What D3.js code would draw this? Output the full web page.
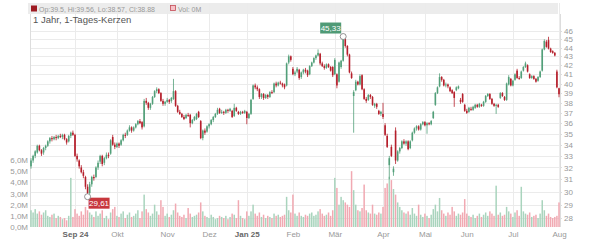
<!DOCTYPE html>
<html lang="de">
<head>
  <meta charset="utf-8">
  <title>1 Jahr, 1-Tages-Kerzen</title>
  <script src="https://cdn.jsdelivr.net/npm/d3@7"></script>
  <style>
    body { margin: 0; background: #fff; }
    svg { display: block; font-family: "Liberation Sans", Arial, sans-serif; }
    .grid line { stroke: #ebebeb; shape-rendering: crispEdges; }
    .axis text { fill: #999; font-size: 8px; }
    .axis path, .axis line { stroke: #ddd; shape-rendering: crispEdges; }
    .axis .year { fill: #666; font-weight: bold; }
    .header { fill: #999; font-size: 7px; }
    .title { fill: #555; font-size: 9.5px; }
    .flag { fill: #fff; font-size: 8px; text-anchor: middle; }
  </style>
</head>
<body>
<div id="chart"></div>
<script>
// daily candles: [open, high, low, close]
const candles = [
  [32.1,32.8,31.9,32.6],[32.6,33.1,32.4,33.0],[33.0,33.5,32.8,33.4],[33.3,34.0,33.2,33.9],[33.9,34.0,33.4,33.5],
  [33.5,33.6,33.0,33.2],[33.3,33.8,33.1,33.7],[33.7,34.0,33.5,33.9],[33.9,34.4,33.8,34.3],[34.3,34.7,34.1,34.6],
  [34.6,34.8,34.3,34.5],[34.5,34.8,34.4,34.7],[34.7,34.9,34.4,34.6],[34.6,34.9,34.5,34.8],[34.8,35.0,34.6,34.7],
  [34.7,35.0,34.5,34.9],[34.9,35.0,34.4,34.5],[34.5,34.6,34.0,34.2],[34.3,34.9,34.2,34.8],[34.8,35.2,34.6,35.1],
  [35.1,35.3,34.8,34.9],[34.9,35.0,32.9,33.0],[33.0,33.2,32.5,32.7],[32.6,32.7,31.9,32.1],[32.0,32.2,31.5,31.6],
  [31.6,31.8,31.1,31.3],[31.2,31.3,30.2,30.4],[30.4,30.6,29.61,29.9],[29.9,30.8,29.8,30.6],[30.6,31.3,30.4,31.2],
  [31.2,31.4,30.9,31.1],[31.2,32.1,31.1,32.0],[32.0,32.6,31.8,32.4],[32.5,33.1,32.3,33.0],[33.0,33.1,32.1,32.3],
  [32.4,32.9,32.2,32.8],[32.8,33.3,32.7,33.1],[33.1,33.3,32.8,33.0],[33.2,34.5,33.1,34.4],[34.7,34.9,33.9,34.0],
  [34.0,34.2,33.6,33.8],[33.8,34.2,33.7,34.1],[34.1,34.2,33.7,33.9],[34.0,34.5,33.9,34.4],[34.4,35.0,34.3,34.9],
  [34.9,35.1,34.6,34.8],[34.9,35.4,34.8,35.3],[35.3,35.8,35.2,35.6],[35.6,35.7,35.1,35.3],[35.3,35.7,35.2,35.6],
  [35.6,36.0,35.5,35.9],[35.9,36.3,35.8,36.2],[36.2,36.4,35.9,36.0],[36.1,36.2,35.4,35.6],[35.7,38.4,35.6,38.2],
  [38.2,38.5,37.8,38.0],[38.0,38.1,37.3,37.5],[37.5,38.0,37.3,37.9],[37.9,38.7,37.8,38.6],[38.6,39.3,38.5,39.2],
  [39.2,39.6,39.0,39.4],[39.4,39.5,38.9,39.0],[39.0,39.1,38.1,38.2],[38.2,38.4,37.7,37.9],[37.9,38.2,37.7,38.1],
  [38.1,38.5,38.0,38.3],[38.3,38.4,37.9,38.1],[38.2,38.6,38.0,38.5],[38.4,40.5,38.3,39.2],[39.2,39.3,37.6,37.7],
  [37.7,37.8,37.0,37.1],[37.1,37.3,36.8,36.9],[36.9,37.0,36.5,36.6],[36.6,36.8,36.3,36.4],[36.5,36.9,36.4,36.8],
  [36.8,37.0,36.6,36.7],[36.8,36.9,35.6,36.0],[36.0,36.4,35.9,36.3],[36.3,36.7,36.2,36.6],[36.4,37.0,36.3,36.9],
  [37.1,37.2,36.5,36.6],[36.2,36.3,34.5,34.6],[34.6,35.4,34.4,35.3],[35.3,35.5,34.9,35.1],[35.2,35.8,35.1,35.7],
  [35.7,36.0,35.5,35.9],[35.9,36.4,35.8,36.3],[36.3,36.7,36.1,36.6],[36.6,37.0,36.5,36.9],[36.9,37.5,36.8,37.3],
  [37.4,37.5,36.9,37.0],[37.0,37.3,36.9,37.1],[37.1,37.2,36.8,37.0],[37.0,37.4,36.9,37.3],[37.3,37.4,37.0,37.2],
  [37.2,37.5,37.1,37.4],[37.2,37.3,36.5,36.6],[36.7,37.9,36.6,37.5],[37.5,37.6,37.1,37.2],[37.1,37.2,36.8,36.9],
  [36.9,37.2,36.8,37.1],[37.1,37.2,36.9,37.0],[37.0,37.3,36.9,37.2],[37.1,37.2,35.9,36.5],[36.5,37.0,36.4,36.9],
  [36.9,38.4,36.8,38.3],[38.4,39.9,38.3,39.8],[39.8,40.0,39.4,39.6],[39.6,39.8,39.2,39.4],[39.4,39.5,38.4,38.6],
  [38.6,39.0,38.4,38.9],[38.9,39.0,38.3,38.5],[38.5,38.9,38.4,38.8],[38.8,38.9,38.4,38.6],[38.6,39.2,38.5,39.1],
  [39.1,39.3,38.9,39.0],[39.1,40.1,39.0,40.0],[40.0,40.2,39.6,39.8],[39.8,40.2,39.7,40.1],[40.1,40.3,39.9,40.0],
  [40.0,40.1,39.6,39.8],[39.9,40.0,39.4,39.6],[39.8,42.3,39.7,42.2],[42.3,43.2,42.1,43.0],[43.0,43.1,42.4,42.6],
  [41.6,41.8,40.9,41.0],[41.0,41.4,40.8,41.2],[41.3,41.8,41.1,41.6],[41.5,41.6,40.4,40.6],[40.7,41.3,40.5,41.2],
  [41.2,41.6,41.0,41.5],[41.5,41.7,41.1,41.3],[41.4,41.5,40.7,40.9],[41.0,42.0,40.9,41.9],[41.9,42.4,41.8,42.3],
  [42.3,42.9,42.2,42.8],[42.8,43.2,42.6,43.1],[43.1,43.8,43.0,43.4],[43.3,43.4,42.0,42.2],[42.2,42.4,41.8,41.9],
  [41.9,42.1,41.5,41.7],[41.7,42.2,41.6,42.1],[42.1,42.2,41.7,41.8],[41.8,41.9,41.3,41.4],[41.8,41.9,40.7,40.9],
  [41.0,42.8,40.9,42.6],[41.0,41.1,39.5,39.8],[40.2,42.4,40.1,42.3],[41.8,42.6,41.6,42.5],[42.5,45.33,42.4,45.0],
  [45.0,45.1,44.0,44.2],[44.2,44.3,43.0,43.2],[43.2,43.3,41.1,41.2],[41.1,41.3,40.5,40.6],[38.7,39.3,35.1,39.1],
  [39.3,40.4,39.2,40.2],[40.2,40.3,39.8,39.9],[39.9,41.0,39.8,40.8],[40.9,41.0,39.3,39.4],[39.4,39.5,38.3,38.4],
  [38.4,38.6,38.0,38.2],[38.3,38.9,38.2,38.8],[38.8,38.9,38.4,38.6],[38.6,38.7,37.7,37.8],[37.7,38.0,37.5,37.9],
  [37.9,38.0,37.4,37.6],[37.2,37.3,36.8,36.9],[36.9,37.2,36.7,37.1],[36.9,38.0,36.4,36.6],[35.8,36.0,34.8,34.9],
  [34.8,35.0,33.7,33.8],[32.2,33.0,31.0,32.8],[33.8,34.0,32.9,33.0],[31.6,32.1,31.3,31.9],[35.3,35.6,32.3,32.6],
  [32.6,33.5,32.5,33.4],[33.4,33.8,33.2,33.7],[33.7,34.4,33.6,34.3],[34.3,34.5,34.0,34.1],[34.1,34.4,33.9,34.3],
  [34.3,34.4,33.5,33.6],[33.7,34.4,33.6,34.3],[34.4,35.2,34.3,35.1],[35.1,35.6,35.0,35.5],[35.5,35.8,35.3,35.7],
  [35.7,35.8,35.3,35.4],[35.4,36.0,35.3,35.9],[35.9,36.2,35.8,36.1],[36.1,36.2,35.7,35.8],[35.8,36.1,35.0,36.0],
  [36.0,36.1,35.8,35.9],[35.9,36.3,35.8,36.2],[36.5,37.2,36.4,37.1],[37.8,39.1,37.7,39.0],[39.0,39.7,38.9,39.6],
  [39.7,41.1,39.6,40.7],[40.7,40.8,40.2,40.4],[40.4,40.5,39.7,39.8],[39.8,40.1,39.6,39.9],[39.9,40.0,39.5,39.7],
  [39.6,39.7,39.1,39.2],[39.3,39.4,38.9,39.0],[39.1,39.2,37.6,38.5],[39.3,39.7,39.2,39.6],[39.5,39.8,39.4,39.7],
  [38.3,38.5,37.9,38.1],[38.9,39.0,38.0,38.1],[37.8,37.9,37.1,37.2],[37.2,37.4,36.9,37.0],[37.1,37.6,37.0,37.5],
  [37.4,37.6,37.2,37.3],[37.3,37.7,37.2,37.6],[37.5,37.9,37.4,37.8],[37.8,37.9,37.5,37.6],[37.6,38.0,37.5,37.9],
  [37.8,37.9,37.6,37.7],[37.7,38.2,37.6,38.1],[38.1,38.8,38.0,38.7],[38.7,39.0,38.6,38.9],[38.9,39.0,38.3,38.4],
  [38.4,38.5,37.8,37.9],[37.9,38.0,37.6,37.7],[37.7,37.9,36.9,37.8],[37.8,37.9,37.5,37.6],[38.5,39.1,38.4,39.0],
  [39.0,39.1,38.6,38.7],[38.6,38.7,38.2,38.3],[38.3,40.1,38.2,40.0],[39.9,40.9,39.8,40.7],[40.5,40.6,39.7,39.8],
  [39.8,40.4,39.7,40.3],[40.4,41.1,40.3,41.0],[41.4,41.6,40.5,40.6],[40.6,40.8,40.4,40.5],[40.6,41.4,40.5,41.3],
  [41.4,41.9,41.3,41.8],[41.8,42.4,41.7,42.2],[42.0,42.1,41.2,41.3],[41.0,41.1,40.5,40.6],[40.6,40.9,40.5,40.8],
  [40.8,40.9,40.4,40.5],[40.5,40.6,40.1,40.2],[40.3,40.8,40.2,40.7],[40.7,41.4,40.6,41.3],[41.4,43.9,41.3,43.8],
  [43.8,45.0,43.7,44.8],[44.7,44.9,44.0,44.1],[44.9,45.3,43.8,43.9],[43.9,44.0,43.4,43.5],[43.6,43.7,43.3,43.4],
  [43.4,43.5,43.0,43.1],[41.3,41.5,39.5,39.6],[39.5,39.56,38.57,38.88]
];

// daily volume in millions, same order as candles
const volumes = [
  1.5,1.3,1.6,1.2,1.4,1.1,1.3,1.5,1.0,0.9,
  1.1,1.2,0.8,1.0,0.9,0.7,0.8,0.6,1.0,4.4,
  0.9,1.6,1.2,1.0,1.4,1.1,1.8,1.5,1.3,1.1,
  0.9,1.4,1.0,1.2,1.5,0.8,1.0,0.7,1.3,1.6,
  1.8,1.0,0.9,1.2,1.4,0.8,1.1,1.3,0.9,1.0,
  1.2,1.5,0.8,1.4,2.9,1.6,1.3,1.0,1.2,2.0,
  1.4,1.1,2.4,1.8,1.0,1.2,0.9,1.1,1.5,2.1,
  1.3,1.0,0.9,1.1,0.8,1.7,1.2,0.9,1.0,1.1,
  1.3,2.2,1.4,1.0,0.9,0.8,1.1,0.9,0.7,0.8,
  1.0,0.9,0.8,1.0,0.7,0.9,1.2,1.1,0.8,2.4,
  1.0,0.8,0.7,1.4,1.0,1.4,2.0,1.2,1.0,1.3,
  0.9,1.1,0.8,1.0,0.9,0.8,1.2,1.0,1.1,0.9,
  1.0,1.1,2.7,1.5,1.3,2.9,1.2,1.0,1.3,1.0,
  0.9,1.1,1.0,1.2,1.3,1.0,1.1,1.4,1.6,1.2,
  1.0,1.1,1.3,1.0,1.5,4.4,3.5,2.0,2.7,2.4,
  2.2,2.0,1.8,5.0,3.3,2.0,1.5,1.4,1.7,3.8,
  1.5,1.3,1.2,2.0,1.2,1.1,1.3,1.2,1.8,3.5,
  3.9,4.5,4.2,3.4,2.9,2.2,1.8,1.5,1.3,1.2,
  1.4,1.1,1.7,1.2,1.0,2.0,1.1,0.9,1.2,1.0,
  0.8,1.1,1.6,2.0,1.4,2.6,1.5,1.2,1.0,1.3,
  1.1,1.8,1.4,1.0,1.2,1.1,1.3,2.5,1.2,1.0,
  0.9,1.1,0.8,1.0,1.2,0.9,1.1,1.3,1.0,1.4,
  1.2,1.0,3.7,1.1,1.3,1.0,1.1,1.8,1.4,1.2,
  0.9,1.3,1.5,1.0,3.6,1.4,1.2,1.1,1.3,0.9,
  1.0,1.1,0.8,1.2,2.4,1.5,1.0,1.2,0.9,0.8,
  0.9,1.0,2.2
];

const monthLabels = ["Sep 24", "Okt", "Nov", "Dez", "Jan 25", "Feb", "Mär", "Apr", "Mai", "Jun", "Jul", "Aug"];
const monthStarts = [21, 41, 65, 85, 103, 125, 145, 168, 188, 208, 230, 252];
const priceTicks = [28, 29, 30, 31, 32, 33, 34, 35, 36, 37, 38, 39, 40, 41, 42, 43, 44, 45, 46];
const volumeTicks = [0, 1, 2, 3, 4, 5, 6];
const chartTitle = "1 Jahr, 1-Tages-Kerzen";
const volumeHeader = "Vol: 0M";

const width = 600, height = 240;
const plotLeft = 30, plotRight = 560, plotTop = 14, plotBottom = 227;
const upColor = "#529f79", downColor = "#b51f2b";
const upVol = "#a9d4bd", downVol = "#f1a9b2";

const svg = d3.select("#chart").append("svg")
  .attr("width", width)
  .attr("height", height);

const x = d3.scaleLinear().domain([0, candles.length - 1]).range([31, 559]);
const yPrice = d3.scaleLog().domain([28, 46]).range([217.7, 31]);
const yVol = d3.scaleLinear().domain([0, 6]).range([plotBottom, 160]);

// header bar
svg.append("rect").attr("x", 28).attr("y", 3).attr("width", 530).attr("height", 11).attr("fill", "#ececec");

// grid
const grid = svg.append("g").attr("class", "grid");
grid.selectAll(".h").data(priceTicks).enter().append("line")
  .attr("x1", plotLeft).attr("x2", plotRight)
  .attr("y1", d => Math.round(yPrice(d)) + 0.5)
  .attr("y2", d => Math.round(yPrice(d)) + 0.5);
grid.selectAll(".v").data(monthStarts).enter().append("line")
  .attr("x1", d => Math.round(x(d)) + 0.5).attr("x2", d => Math.round(x(d)) + 0.5)
  .attr("y1", 3).attr("y2", plotBottom);

const last = candles[candles.length - 1];
svg.append("rect").attr("x", 31).attr("y", 5.5).attr("width", 6).attr("height", 6).attr("fill", "#9e1b22");
svg.append("text").attr("class", "header").attr("x", 39).attr("y", 11.5)
  .text(`Op:${last[0]}, Hi:${last[1]}, Lo:${last[2]}, Cl:${last[3]}`);
svg.append("rect").attr("x", 170.5).attr("y", 5.5).attr("width", 5).attr("height", 5)
  .attr("fill", "#f6c2c8").attr("stroke", "#c44b55").attr("stroke-width", 0.8);
svg.append("text").attr("class", "header").attr("x", 178).attr("y", 11.5).text(volumeHeader);

svg.append("text").attr("class", "title").attr("x", 33).attr("y", 23).text(chartTitle);

// frame
svg.append("line").attr("x1", plotLeft + 0.5).attr("x2", plotLeft + 0.5).attr("y1", plotTop).attr("y2", plotBottom)
  .attr("stroke", "#ddd").style("shape-rendering", "crispEdges");

// volume bars
svg.append("g").selectAll("rect").data(volumes).enter().append("rect")
  .attr("x", (d, i) => x(i) - 0.75)
  .attr("width", 1.5)
  .attr("y", d => yVol(d))
  .attr("height", d => plotBottom - yVol(d))
  .attr("fill", (d, i) => candles[i][3] >= candles[i][0] ? upVol : downVol);

// candles
const candle = svg.append("g").selectAll("g").data(candles).enter().append("g")
  .attr("fill", d => d[3] >= d[0] ? upColor : downColor)
  .attr("stroke", d => d[3] >= d[0] ? upColor : downColor);
candle.append("line")
  .attr("x1", (d, i) => x(i)).attr("x2", (d, i) => x(i))
  .attr("y1", d => yPrice(d[1])).attr("y2", d => yPrice(d[2]))
  .attr("stroke-width", 0.8);
candle.append("rect")
  .attr("stroke", "none")
  .attr("x", (d, i) => x(i) - 0.8)
  .attr("width", 1.6)
  .attr("y", d => yPrice(Math.max(d[0], d[3])))
  .attr("height", d => Math.max(0.8, yPrice(Math.min(d[0], d[3])) - yPrice(Math.max(d[0], d[3]))));

// axes
const fmtComma = d3.format(".1f");
svg.append("g").attr("class", "axis")
  .attr("transform", `translate(${plotRight},0)`)
  .call(d3.axisRight(yPrice).tickValues(priceTicks).tickFormat(d3.format("d")).tickSize(2).tickPadding(2))
  .call(g => g.select(".domain").attr("d", `M0.5,${plotTop}V${plotBottom}`));
svg.append("g").attr("class", "axis")
  .attr("transform", `translate(${plotLeft},0)`)
  .call(d3.axisLeft(yVol).tickValues(volumeTicks).tickFormat(d => fmtComma(d).replace(".", ",") + "M").tickSize(0).tickPadding(2))
  .call(g => g.select(".domain").remove());
svg.append("g").attr("class", "axis")
  .attr("transform", `translate(0,${plotBottom})`)
  .call(d3.axisBottom(x).tickValues(monthStarts).tickFormat((d, i) => monthLabels[i]).tickSize(0).tickPadding(4))
  .call(g => g.select(".domain").remove())
  .call(g => g.selectAll("text").classed("year", (d, i) => /\d/.test(monthLabels[i])));

// high / low flags
const hiIdx = d3.maxIndex(candles, d => d[1]);
const loIdx = d3.minIndex(candles, d => d[2]);
const fmtPrice = v => d3.format(".2f")(v).replace(".", ",");

function flag(idx, value, color, dx, dy) {
  const cx = x(idx), cy = yPrice(value);
  svg.append("rect").attr("x", cx + dx).attr("y", cy + dy).attr("width", 21).attr("height", 11)
    .attr("fill", color);
  svg.append("text").attr("class", "flag").attr("x", cx + dx + 10.5).attr("y", cy + dy + 8.5)
    .text(fmtPrice(value));
  svg.append("circle").attr("cx", cx).attr("cy", cy).attr("r", 3)
    .attr("fill", "#fff").attr("stroke", "#777").attr("stroke-width", 0.8);
}
flag(hiIdx, candles[hiIdx][1], "#4f9a76", -23, -14);
flag(loIdx, candles[loIdx][2], "#c7373d", 1, 1);
</script>
</body>
</html>
